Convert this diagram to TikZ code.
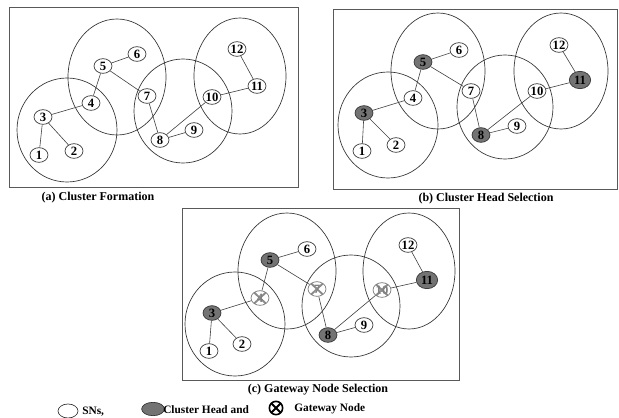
\documentclass[tikz,border=0pt]{standalone}
\usepackage{fontspec}
\setmainfont{Liberation Serif}
\usetikzlibrary{shapes.geometric}
\definecolor{headgray}{rgb}{0.45,0.45,0.45}
\begin{document}
\begin{tikzpicture}[x=0.75pt,y=-0.75pt,
  sn/.style={ellipse, draw=black!80, fill=white, line width=0.5pt,
    minimum width=13.5pt, minimum height=11pt, inner sep=0pt,
    font=\bfseries\fontsize{9.5}{9.5}\selectfont},
  head/.style={sn, fill=headgray},
  gateway/.style={sn, draw=black!55, text=black!50,
    path picture={\draw[black!45, line width=1.4pt]
      ([shift={(2.5pt,-1.5pt)}]path picture bounding box.north west) --
      ([shift={(-2.5pt,1.5pt)}]path picture bounding box.south east)
      ([shift={(-2.5pt,-1.5pt)}]path picture bounding box.north east) --
      ([shift={(2.5pt,1.5pt)}]path picture bounding box.south west);}},
  link/.style={draw=black!75, line width=0.45pt},
  zone/.style={draw=black!80, line width=0.5pt},
  panel/.style={draw=black!65, line width=0.65pt},
  caption/.style={font=\bfseries\fontsize{9}{9}\selectfont, inner sep=0pt},
  keytext/.style={font=\bfseries\fontsize{8.5}{8.5}\selectfont, inner sep=0pt, anchor=west}]

\fill[white] (0,0) rectangle (619,418);
\useasboundingbox (0,0) rectangle (619,418);

% panel frames
\draw[panel] (9,7) rectangle (298,187);
\draw[panel] (333,9) rectangle (617,189);
\draw[panel] (182,208) rectangle (459,380);

% cluster zones, panel (a)
\draw[zone] (67,130) ellipse [x radius=37.5pt, y radius=39pt];
\draw[zone] (117,77) ellipse [x radius=36.75pt, y radius=43.5pt];
\draw[zone] (183,111) ellipse [x radius=36.75pt, y radius=39pt];
\draw[zone] (240,76) ellipse [x radius=34.5pt, y radius=43.5pt];
% cluster zones, panel (b)
\draw[zone] (388,125) ellipse [x radius=37.5pt, y radius=39.75pt];
\draw[zone] (438,71) ellipse [x radius=35.25pt, y radius=43.5pt];
\draw[zone] (505,107) ellipse [x radius=36pt, y radius=39pt];
\draw[zone] (561,71) ellipse [x radius=35.25pt, y radius=43.5pt];
% cluster zones, panel (c)
\draw[zone] (235,324) ellipse [x radius=37.5pt, y radius=39pt];
\draw[zone] (287,271) ellipse [x radius=36.75pt, y radius=43.5pt];
\draw[zone] (351,306) ellipse [x radius=36.75pt, y radius=38.25pt];
\draw[zone] (409,271) ellipse [x radius=34.5pt, y radius=43.5pt];

% panel (a): sensor nodes
\node[sn] (a1) at (39,155) {1};
\node[sn] (a2) at (74,151) {2};
\node[sn] (a3) at (43,117) {3};
\node[sn] (a4) at (91,103) {4};
\node[sn] (a5) at (103,66) {5};
\node[sn] (a6) at (137,54) {6};
\node[sn] (a7) at (147,96) {7};
\node[sn] (a8) at (160,140) {8};
\node[sn] (a9) at (194,130) {9};
\node[sn] (a10) at (212,97) {10};
\node[sn] (a11) at (257,86) {11};
\node[sn] (a12) at (237,49) {12};

% panel (b): cluster heads shaded
\node[sn] (b1) at (362,151) {1};
\node[sn] (b2) at (396,145) {2};
\node[head] (b3) at (364,113) {3};
\node[sn] (b4) at (413,98) {4};
\node[head] (b5) at (423,62) {5};
\node[sn] (b6) at (459,50) {6};
\node[sn] (b7) at (471,91) {7};
\node[head] (b8) at (481,135) {8};
\node[sn] (b9) at (517,126) {9};
\node[sn] (b10) at (537,91) {10};
\node[head, minimum width=16pt, minimum height=13pt] (b11) at (580,80) {11};
\node[sn] (b12) at (559,45) {12};

% panel (c): cluster heads and gateways
\node[sn] (c1) at (209,351) {1};
\node[sn] (c2) at (242,344) {2};
\node[head] (c3) at (212,313) {3};
\node[gateway] (c4) at (260,298) {4};
\node[head] (c5) at (270,260) {5};
\node[sn] (c6) at (307,249) {6};
\node[gateway] (c7) at (317,289) {7};
\node[head] (c8) at (328,335) {8};
\node[sn] (c9) at (364,325) {9};
\node[gateway] (c10) at (382,290) {10};
\node[head, minimum width=16pt, minimum height=13pt] (c11) at (427,280) {11};
\node[sn] (c12) at (408,245) {12};

% links between neighbouring nodes
\foreach \p in {a,b,c}
  \foreach \u/\v in {1/3,3/2,3/4,4/5,5/6,5/7,7/8,8/9,8/10,10/11,11/12}
    \draw[link] (\p\u) -- (\p\v);

% captions
\node[caption] (capa) at (98,198) {(a) Cluster Formation};
\node[caption] (capb) at (486,199) {(b) Cluster Head Selection};
\node[caption] (capc) at (318,390) {(c) Gateway Node Selection};

% legend
\node[sn, minimum width=15pt, minimum height=10.5pt] (keysn) at (68,411) {};
\node[keytext] (keysntext) at (82,412) {SNs,};
\node[head, minimum width=17pt, minimum height=10pt] (keyhead) at (153,409) {};
\node[keytext] (keyheadtext) at (163,410) {Cluster Head and};
\node[circle, draw=black, line width=1.2pt, minimum size=10pt, inner sep=0pt,
  path picture={\draw[line width=1.4pt]
    (path picture bounding box.north west) -- (path picture bounding box.south east)
    (path picture bounding box.north east) -- (path picture bounding box.south west);}]
  (keygw) at (276,408) {};
\node[keytext] (keygwtext) at (294,409) {Gateway Node};
\end{tikzpicture}
\end{document}
